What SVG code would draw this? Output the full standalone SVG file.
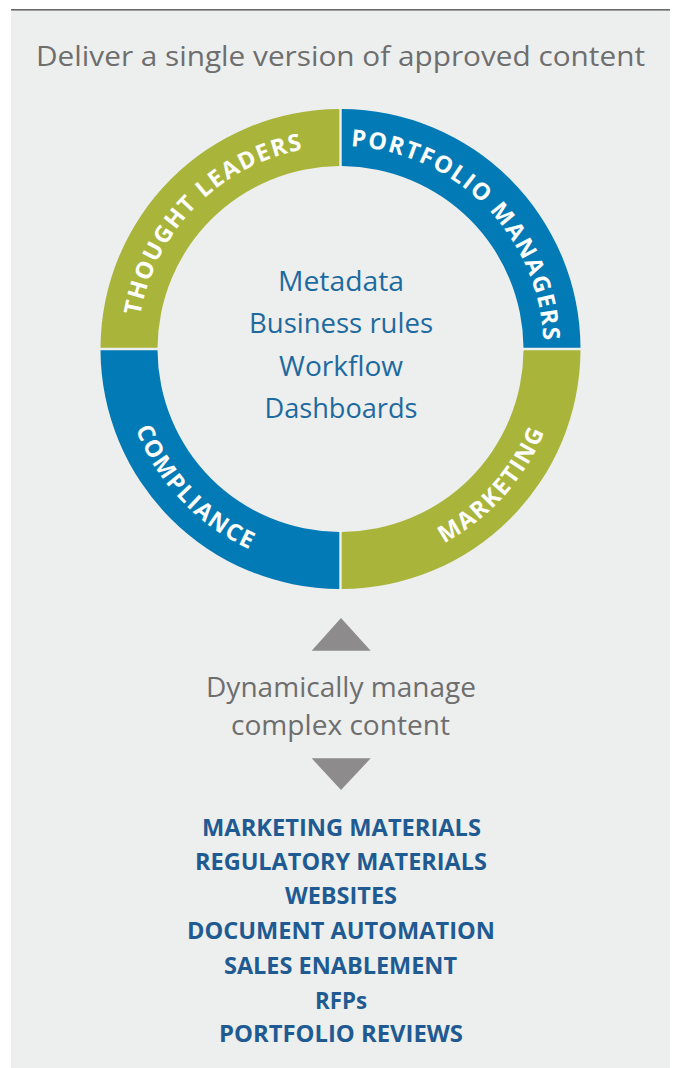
<svg xmlns="http://www.w3.org/2000/svg" width="673" height="1068" viewBox="0 0 673 1068">
<defs>
<style>
.title{font-family:"Open Sans","Liberation Sans",sans-serif;font-size:27px;fill:#6E6E6E;}
.center{font-family:"Open Sans","Liberation Sans",sans-serif;font-size:28px;fill:#1D6AA0;}
.ring{font-family:"Open Sans","Liberation Sans",sans-serif;font-size:23.5px;font-weight:bold;fill:#FFFFFF;letter-spacing:1.6px;}
.out{font-family:"Open Sans","Liberation Sans",sans-serif;font-size:24px;font-weight:bold;fill:#1F5B92;}
.green{fill:#A9B53A;}
.blue{fill:#027AB5;}
.tri{fill:#8D8B8B;}
</style>
<path id="pTL" d="M 137.5 349 A 203 203 0 0 1 340.5 146"/>
<path id="pTR" d="M 340.5 146 A 203 203 0 0 1 543.5 349"/>
<path id="pBL" d="M 120.5 349 A 220 220 0 0 0 340.5 569"/>
<path id="pBR" d="M 340.5 569 A 220 220 0 0 0 560.5 349"/>
</defs>
<rect x="0" y="0" width="673" height="1068" fill="#FFFFFF"/>
<rect x="11" y="10" width="659" height="1058" fill="#EDEEEE"/>
<rect x="11" y="9" width="659" height="1.6" fill="#6A6A6A"/>
<text class="title" x="340.5" y="66" text-anchor="middle" textLength="609" lengthAdjust="spacingAndGlyphs">Deliver a single version of approved content</text>

<g id="thought-leaders">
<path class="green" d="M 100.5 347.8 A 240 240 0 0 1 339.3 109 L 339.3 166 A 183 183 0 0 0 157.5 347.8 Z"/>
<text class="ring"><textPath href="#pTL" startOffset="49.5%" text-anchor="middle">THOUGHT LEADERS</textPath></text>
</g>
<g id="portfolio-managers">
<path class="blue" d="M 341.7 109 A 240 240 0 0 1 580.5 347.8 L 523.5 347.8 A 183 183 0 0 0 341.7 166 Z"/>
<text class="ring"><textPath href="#pTR" startOffset="50.5%" text-anchor="middle">PORTFOLIO MANAGERS</textPath></text>
</g>
<g id="compliance">
<path class="blue" d="M 100.5 350.2 A 240 240 0 0 0 339.3 589 L 339.3 532 A 183 183 0 0 1 157.5 350.2 Z"/>
<text class="ring"><textPath href="#pBL" startOffset="48.5%" text-anchor="middle">COMPLIANCE</textPath></text>
</g>
<g id="marketing">
<path class="green" d="M 341.7 589 A 240 240 0 0 0 580.5 350.2 L 523.5 350.2 A 183 183 0 0 1 341.7 532 Z"/>
<text class="ring"><textPath href="#pBR" startOffset="53.5%" text-anchor="middle">MARKETING</textPath></text>
</g>

<g id="center-text">
<text class="center" x="341" y="291" text-anchor="middle" textLength="126" lengthAdjust="spacingAndGlyphs">Metadata</text>
<text class="center" x="341" y="333" text-anchor="middle" textLength="184" lengthAdjust="spacingAndGlyphs">Business rules</text>
<text class="center" x="341" y="376" text-anchor="middle" textLength="124" lengthAdjust="spacingAndGlyphs">Workflow</text>
<text class="center" x="341" y="418" text-anchor="middle" textLength="153" lengthAdjust="spacingAndGlyphs">Dashboards</text>
</g>

<g id="connectors">
<polygon class="tri" points="341,618 370.7,650.7 311.7,650.7"/>
<polygon class="tri" points="311.7,758.3 370.7,758.3 341,790"/>
</g>

<g id="manage">
<text class="title" x="341" y="697" text-anchor="middle" textLength="270" lengthAdjust="spacingAndGlyphs">Dynamically manage</text>
<text class="title" x="340.5" y="735" text-anchor="middle" textLength="219" lengthAdjust="spacingAndGlyphs">complex content</text>
</g>

<g id="outputs">
<text class="out" x="341.5" y="835.7" text-anchor="middle" textLength="279" lengthAdjust="spacingAndGlyphs">MARKETING MATERIALS</text>
<text class="out" x="341" y="870" text-anchor="middle" textLength="292" lengthAdjust="spacingAndGlyphs">REGULATORY MATERIALS</text>
<text class="out" x="341" y="904" text-anchor="middle" textLength="112" lengthAdjust="spacingAndGlyphs">WEBSITES</text>
<text class="out" x="341" y="939" text-anchor="middle" textLength="308" lengthAdjust="spacingAndGlyphs">DOCUMENT AUTOMATION</text>
<text class="out" x="340.5" y="974" text-anchor="middle" textLength="233" lengthAdjust="spacingAndGlyphs">SALES ENABLEMENT</text>
<text class="out" x="341" y="1009" text-anchor="middle" textLength="52" lengthAdjust="spacingAndGlyphs">RFPs</text>
<text class="out" x="341" y="1041.7" text-anchor="middle" textLength="244" lengthAdjust="spacingAndGlyphs">PORTFOLIO REVIEWS</text>
</g>
</svg>
